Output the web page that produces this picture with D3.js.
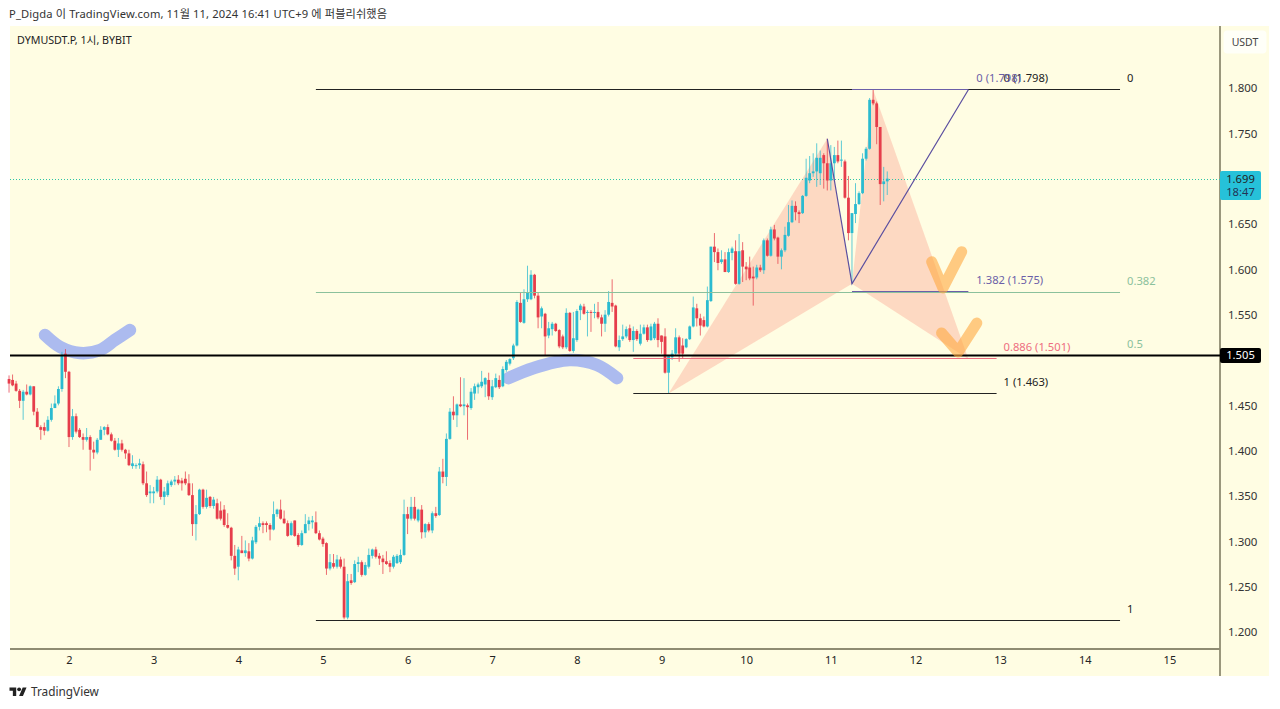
<!DOCTYPE html>
<html>
<head>
<meta charset="utf-8">
<style>
	html, body { margin: 0; padding: 0; background: #fff; }
	svg { display: block; }
	text { font-family: "Noto Sans", "Noto Sans CJK KR", sans-serif; font-size: 11.2px; fill: #222; }
</style>
</head>
<body>
<svg id="chart" width="1280" height="709"></svg>
<script src="https://cdn.jsdelivr.net/npm/d3@7"></script>
<script>
// hourly candles, one entry per bar
const opens = [
	1.479,1.478,1.474,1.466,1.455,1.465,1.462,1.471,1.443,1.426,
	1.426,1.422,1.434,1.447,1.452,1.468,1.507,1.487,1.415,1.438,
	1.423,1.415,1.412,1.415,1.401,1.398,1.412,1.423,1.426,1.418,
	1.411,1.401,1.408,1.401,1.397,1.383,1.383,1.384,1.385,1.364,
	1.353,1.353,1.355,1.368,1.349,1.351,1.362,1.366,1.368,1.367,
	1.369,1.364,1.351,1.319,1.330,1.357,1.338,1.349,1.339,1.342,
	1.334,1.335,1.318,1.315,1.284,1.272,1.290,1.287,1.289,1.281,
	1.299,1.316,1.320,1.320,1.318,1.313,1.330,1.335,1.325,1.320,
	1.307,1.323,1.307,1.296,1.309,1.319,1.321,1.321,1.309,1.303,
	1.298,1.270,1.276,1.272,1.280,1.272,1.216,1.257,1.255,1.275,
	1.277,1.263,1.272,1.284,1.291,1.284,1.281,1.278,1.276,1.272,
	1.276,1.277,1.285,1.330,1.325,1.338,1.323,1.335,1.310,1.319,
	1.312,1.331,1.329,1.377,1.371,1.413,1.443,1.439,1.451,1.449,
	1.450,1.447,1.463,1.470,1.471,1.473,1.478,1.459,1.470,1.478,
	1.471,1.489,1.496,1.502,1.516,1.563,1.541,1.567,1.567,1.594,
	1.571,1.548,1.551,1.527,1.534,1.540,1.533,1.526,1.514,1.552,
	1.510,1.522,1.555,1.559,1.552,1.553,1.552,1.553,1.547,1.540,
	1.550,1.563,1.560,1.514,1.523,1.526,1.535,1.522,1.532,1.518,
	1.529,1.536,1.522,1.524,1.540,1.527,1.526,1.486,1.503,1.507,
	1.525,1.516,1.514,1.523,1.537,1.557,1.546,1.544,1.537,1.565,
	1.625,1.619,1.608,1.611,1.597,1.618,1.620,1.584,1.621,1.603,
	1.602,1.592,1.591,1.602,1.599,1.632,1.615,1.644,1.635,1.614,
	1.621,1.637,1.652,1.670,1.663,1.662,1.681,1.698,1.706,1.708,
	1.706,1.726,1.717,1.698,1.717,1.726,1.720,1.719,1.679,1.640,
	1.661,1.672,1.684,1.722,1.733,1.787,1.783,1.757,1.694,1.697
];
const highs = [
	1.483,1.484,1.477,1.468,1.467,1.473,1.472,1.471,1.447,1.428,
	1.431,1.438,1.452,1.461,1.471,1.509,1.512,1.488,1.446,1.441,
	1.425,1.419,1.425,1.417,1.410,1.414,1.427,1.427,1.429,1.420,
	1.414,1.414,1.412,1.402,1.401,1.395,1.386,1.391,1.388,1.377,
	1.362,1.360,1.372,1.369,1.360,1.367,1.368,1.372,1.373,1.370,
	1.377,1.374,1.364,1.340,1.358,1.358,1.357,1.350,1.349,1.347,
	1.344,1.340,1.331,1.316,1.296,1.294,1.306,1.301,1.298,1.305,
	1.318,1.327,1.322,1.322,1.320,1.344,1.336,1.346,1.334,1.323,
	1.322,1.323,1.309,1.312,1.330,1.327,1.328,1.333,1.312,1.305,
	1.299,1.286,1.286,1.285,1.283,1.281,1.264,1.264,1.279,1.283,
	1.279,1.277,1.292,1.292,1.294,1.287,1.285,1.289,1.279,1.285,
	1.286,1.291,1.346,1.338,1.349,1.349,1.336,1.340,1.320,1.321,
	1.333,1.338,1.382,1.391,1.419,1.447,1.460,1.452,1.481,1.480,
	1.452,1.469,1.474,1.475,1.488,1.481,1.486,1.478,1.485,1.483,
	1.493,1.500,1.502,1.518,1.566,1.574,1.578,1.604,1.599,1.595,
	1.574,1.559,1.552,1.542,1.542,1.541,1.534,1.528,1.557,1.553,
	1.553,1.556,1.562,1.562,1.555,1.555,1.562,1.564,1.550,1.555,
	1.576,1.589,1.561,1.527,1.539,1.537,1.539,1.537,1.534,1.539,
	1.539,1.539,1.540,1.542,1.546,1.527,1.535,1.505,1.511,1.535,
	1.527,1.524,1.524,1.538,1.570,1.562,1.551,1.548,1.581,1.625,
	1.640,1.623,1.621,1.619,1.623,1.625,1.632,1.639,1.630,1.608,
	1.614,1.603,1.605,1.605,1.634,1.634,1.647,1.649,1.636,1.623,
	1.647,1.671,1.676,1.675,1.665,1.682,1.722,1.725,1.728,1.739,
	1.731,1.728,1.744,1.737,1.735,1.742,1.742,1.721,1.703,1.662,
	1.695,1.686,1.728,1.735,1.789,1.798,1.785,1.757,1.713,1.708
];
const lows = [
	1.464,1.471,1.465,1.447,1.434,1.461,1.461,1.439,1.426,1.412,
	1.417,1.421,1.432,1.447,1.450,1.465,1.480,1.404,1.412,1.419,
	1.414,1.401,1.410,1.378,1.391,1.396,1.412,1.417,1.417,1.410,
	1.400,1.393,1.399,1.391,1.383,1.380,1.380,1.380,1.362,1.349,
	1.342,1.342,1.353,1.346,1.340,1.349,1.360,1.362,1.362,1.356,
	1.362,1.350,1.306,1.301,1.329,1.336,1.336,1.337,1.336,1.324,
	1.323,1.316,1.314,1.279,1.263,1.257,1.287,1.283,1.278,1.280,
	1.297,1.312,1.309,1.310,1.301,1.312,1.327,1.324,1.319,1.305,
	1.306,1.305,1.294,1.295,1.309,1.312,1.314,1.308,1.301,1.294,
	1.263,1.268,1.270,1.270,1.270,1.214,1.214,1.252,1.254,1.266,
	1.261,1.262,1.270,1.281,1.281,1.274,1.264,1.274,1.266,1.270,
	1.275,1.275,1.284,1.308,1.323,1.323,1.321,1.303,1.304,1.310,
	1.309,1.326,1.328,1.364,1.361,1.412,1.434,1.426,1.448,1.439,
	1.412,1.445,1.456,1.463,1.469,1.459,1.456,1.456,1.469,1.468,
	1.470,1.487,1.494,1.500,1.515,1.541,1.540,1.564,1.566,1.568,
	1.535,1.535,1.505,1.524,1.527,1.531,1.513,1.512,1.512,1.509,
	1.508,1.520,1.544,1.550,1.526,1.531,1.546,1.545,1.526,1.531,
	1.548,1.553,1.514,1.510,1.521,1.524,1.520,1.509,1.521,1.516,
	1.528,1.520,1.521,1.522,1.514,1.507,1.485,1.463,1.500,1.505,
	1.498,1.502,1.513,1.522,1.536,1.537,1.527,1.536,1.536,1.564,
	1.608,1.599,1.606,1.597,1.596,1.610,1.583,1.583,1.586,1.588,
	1.588,1.560,1.589,1.597,1.595,1.614,1.614,1.632,1.606,1.600,
	1.619,1.636,1.651,1.654,1.651,1.661,1.680,1.695,1.702,1.691,
	1.693,1.689,1.687,1.687,1.698,1.717,1.713,1.678,1.632,1.584,
	1.651,1.671,1.683,1.720,1.732,1.781,1.738,1.671,1.675,1.682
];
const closes = [
	1.474,1.472,1.466,1.455,1.465,1.462,1.471,1.443,1.426,1.423,
	1.422,1.434,1.447,1.452,1.468,1.506,1.487,1.415,1.438,1.421,
	1.415,1.412,1.415,1.401,1.398,1.412,1.423,1.426,1.418,1.411,
	1.401,1.408,1.401,1.397,1.384,1.386,1.384,1.386,1.364,1.351,
	1.355,1.355,1.368,1.349,1.355,1.364,1.366,1.368,1.364,1.364,
	1.364,1.351,1.319,1.330,1.357,1.338,1.348,1.339,1.346,1.325,
	1.325,1.318,1.315,1.284,1.270,1.291,1.287,1.290,1.281,1.301,
	1.316,1.320,1.318,1.318,1.313,1.330,1.335,1.325,1.320,1.306,
	1.320,1.306,1.296,1.309,1.319,1.323,1.323,1.309,1.302,1.297,
	1.270,1.277,1.272,1.280,1.272,1.216,1.256,1.254,1.275,1.277,
	1.263,1.274,1.285,1.291,1.283,1.281,1.277,1.275,1.272,1.283,
	1.284,1.285,1.330,1.325,1.338,1.325,1.335,1.310,1.319,1.312,
	1.331,1.328,1.377,1.371,1.413,1.443,1.439,1.451,1.449,1.451,
	1.448,1.465,1.471,1.473,1.476,1.480,1.460,1.471,1.480,1.470,
	1.490,1.498,1.501,1.516,1.564,1.542,1.567,1.574,1.594,1.571,
	1.547,1.557,1.526,1.535,1.540,1.532,1.515,1.514,1.552,1.510,
	1.524,1.554,1.560,1.551,1.553,1.552,1.553,1.547,1.540,1.550,
	1.564,1.559,1.515,1.522,1.526,1.534,1.522,1.532,1.523,1.529,
	1.536,1.522,1.537,1.540,1.522,1.520,1.486,1.505,1.507,1.525,
	1.507,1.507,1.523,1.537,1.558,1.546,1.538,1.537,1.566,1.625,
	1.619,1.607,1.611,1.597,1.619,1.623,1.584,1.620,1.603,1.600,
	1.590,1.590,1.602,1.599,1.632,1.615,1.644,1.634,1.614,1.621,
	1.638,1.652,1.670,1.663,1.661,1.681,1.701,1.706,1.708,1.723,
	1.723,1.717,1.698,1.717,1.726,1.719,1.721,1.679,1.640,1.662,
	1.672,1.684,1.722,1.733,1.787,1.783,1.757,1.694,1.697,1.700
];

const dayLabels = [2,3,4,5,6,7,8,9,10,11,12,13,14,15];
const firstDayBar = 17; // bar index where the 2nd starts
const priceTicks = [1.8,1.75,1.65,1.6,1.55,1.45,1.4,1.35,1.3,1.25,1.2];

const lastPrice = 1.699;
const countdown = "18:47";
const supportPrice = 1.505;

// long fib, bars 87 to 315
const fibPrices = [1.798,1.574,1.505,1.213];
const fibLabels = ["0","0.382","0.5","1"];
const fibColors = ["#222","#8bc19c","#8bc19c","#222"];

// short fib, bars 177 to 280
const shortPrices = [1.798,1.502,1.463];
const shortLabels = ["0 (1.798)","0.886 (1.501)","1 (1.463)"];
const shortColors = ["#222","#ee6d80","#222"];

// purple fib, bars 239 to 272
const purplePrices = [1.798,1.576];
const purpleLabels = ["0 (1.798)","1.382 (1.575)"];

// harmonic pattern X A B C D
const patternBars = [187,232,239,245,272];
const patternPrices = [1.463,1.744,1.584,1.798,1.501];

// hand drawn strokes
const brushOneBars = [10.2,14.5,20.1,25.8,30,34.3];
const brushOnePrices = [1.5276,1.5144,1.5077,1.511,1.522,1.533];
const brushTwoBars = [141.6,148.6,159,166.7,172.4];
const brushTwoPrices = [1.48,1.491,1.5,1.4945,1.48];
const checkOneBars = [261.6,264.8,270.1];
const checkOnePrices = [1.6084,1.5794,1.6195];
const checkTwoBars = [264.4,269.1,274.4];
const checkTwoPrices = [1.5298,1.5088,1.5408];

const up = "#2bbbd0", down = "#e63d4b", panelBg = "#fffde3", axisLine = "#8f8c72";
const plotLeft = 10, plotRight = 1220, plotTop = 26, plotBottom = 649;

const svg = d3.select("#chart");
const x = d3.scaleLinear().domain([0,firstDayBar+13*24]).range([9.04,1169.4]);
const y = d3.scaleLinear().domain([1.2,1.8]).range([632,88]);
const snapY = p => Math.floor(y(p))+.5;

svg.append("rect").attr("x",plotLeft).attr("y",plotTop).attr("width",1259).attr("height",650).attr("fill",panelBg);

// axes
const xAxis = d3.axisBottom(x)
	.tickValues(dayLabels.map((d,i) => firstDayBar+i*24))
	.tickFormat((d,i) => dayLabels[i])
	.tickSize(0).tickPadding(7);
const yAxis = d3.axisRight(y)
	.tickValues(priceTicks)
	.tickFormat(d3.format(".3f"))
	.tickSize(0).tickPadding(8);
const gx = svg.append("g").attr("transform","translate(0,"+plotBottom+")").call(xAxis);
const gy = svg.append("g").attr("transform","translate("+plotRight+",0)").call(yAxis);
gx.select(".domain").remove();
gy.select(".domain").remove();
gx.selectAll("text").style("font-size","11px").style("fill","#222");
gy.selectAll("text").style("font-size","11.5px").style("fill","#333");

svg.append("line").attr("x1",plotRight).attr("x2",plotRight).attr("y1",plotTop).attr("y2",676).attr("stroke",axisLine).attr("stroke-width",1.8);
svg.append("line").attr("x1",plotLeft).attr("x2",plotRight).attr("y1",plotBottom).attr("y2",plotBottom).attr("stroke",axisLine).attr("stroke-width",1.8);

const strokeLine = d3.line().curve(d3.curveCatmullRom);
function drawStroke(bars, prices, color, width, opacity, curve) {
	const pts = bars.map((b,i) => [x(b),y(prices[i])]);
	svg.append("path")
		.attr("d", (curve ? strokeLine : d3.line())(pts))
		.attr("fill","none").attr("stroke",color).attr("stroke-width",width)
		.attr("stroke-linecap","round").attr("stroke-linejoin","round")
		.attr("opacity",opacity);
}

// blue brushes go under the candles
drawStroke(brushOneBars,brushOnePrices,"#acbbef",12.5,1,true);
drawStroke(brushTwoBars,brushTwoPrices,"#acbbef",12.5,1,true);

// pattern triangles, candles stay vivid on top of them
const tri = [[0,1,2],[2,3,4]];
svg.append("g").selectAll("path").data(tri).join("path")
	.attr("d",t => d3.line()(t.map(k => [x(patternBars[k]),y(patternPrices[k])]))+"Z")
	.attr("fill","#f77f6b").attr("opacity",.28);

// last price line
svg.append("line").attr("x1",plotLeft).attr("x2",plotRight).attr("y1",snapY(lastPrice)).attr("y2",snapY(lastPrice))
	.attr("stroke","#2ec4a6").attr("stroke-width",1).attr("stroke-dasharray","1 2");

// candles
const candles = svg.append("g").selectAll("g").data(opens).join("g");
candles.append("line")
	.attr("x1",(d,i) => x(i)).attr("x2",(d,i) => x(i))
	.attr("y1",(d,i) => y(highs[i])).attr("y2",(d,i) => y(lows[i]))
	.attr("stroke",(d,i) => closes[i] >= opens[i] ? up : down)
	.attr("stroke-width",1).attr("opacity",.75);
candles.append("rect")
	.attr("x",(d,i) => x(i)-1.4).attr("width",2.8)
	.attr("y",(d,i) => y(Math.max(opens[i],closes[i])))
	.attr("height",(d,i) => Math.max(1,Math.abs(y(opens[i])-y(closes[i]))))
	.attr("fill",(d,i) => closes[i] >= opens[i] ? up : down);

// horizontal fib lines
function levels(prices, labels, colors, from, to, labelBar, labelDx) {
	prices.forEach((p,i) => {
		svg.append("line").attr("x1",x(from)).attr("x2",x(to)).attr("y1",snapY(p)).attr("y2",snapY(p))
			.attr("stroke",colors[i]).attr("stroke-width",1.2);
		svg.append("text").attr("x",x(labelBar)+labelDx).attr("y",y(p)-11.5).attr("dy",".35em")
			.style("fill",colors[i]).text(labels[i]);
	});
}
levels(fibPrices,fibLabels,fibColors,87,315,315,7);
levels(shortPrices,shortLabels,shortColors,177,280,280,7);
levels(purplePrices,purpleLabels,["#6b5fa8","#6b5fa8"],239,272,272,8);

// thick support line
svg.append("line").attr("x1",plotLeft).attr("x2",plotRight).attr("y1",y(supportPrice)).attr("y2",y(supportPrice))
	.attr("stroke","#000").attr("stroke-width",2);

// A-B-D purple zigzag
const zig = [[patternBars[1],patternPrices[1]],[patternBars[2],patternPrices[2]],[272,1.798]];
svg.append("path").attr("d",d3.line().x(d => x(d[0])).y(d => y(d[1]))(zig))
	.attr("fill","none").attr("stroke","#5b4fa0").attr("stroke-width",1.2);

// orange checks
drawStroke(checkOneBars,checkOnePrices,"#ffa940",11,.6,false);
drawStroke(checkTwoBars,checkTwoPrices,"#ffa940",11,.6,false);

// price tags
svg.append("rect").attr("x",plotRight).attr("y",y(lastPrice)-8.5).attr("width",41).attr("height",29).attr("rx",2).attr("fill","#26c1d9");
svg.append("text").attr("x",plotRight+20.5).attr("y",y(lastPrice)).attr("dy",".35em").attr("text-anchor","middle").text(d3.format(".3f")(lastPrice));
svg.append("text").attr("x",plotRight+20.5).attr("y",y(lastPrice)+13).attr("dy",".35em").attr("text-anchor","middle").style("fill","#235").text(countdown);
svg.append("rect").attr("x",plotRight).attr("y",y(supportPrice)-7.5).attr("width",41).attr("height",15).attr("rx",2).attr("fill","#000");
svg.append("text").attr("x",plotRight+20.5).attr("y",y(supportPrice)).attr("dy",".35em").attr("text-anchor","middle")
	.style("fill","#fff").text(d3.format(".3f")(supportPrice));

// currency box
svg.append("rect").attr("x",1223.5).attr("y",30.5).attr("width",43).attr("height",23).attr("rx",4).attr("fill","#fffff8");
svg.append("text").attr("x",1245).attr("y",42).attr("dy",".35em").attr("text-anchor","middle").style("font-size","10.5px").style("fill","#444").text("USDT");

// titles
svg.append("text").attr("x",9).attr("y",14).attr("dy",".35em").style("fill","#333").style("letter-spacing",".12px").text("P_Digda 이 TradingView.com, 11월 11, 2024 16:41 UTC+9 에 퍼블리쉬했음");
svg.append("text").attr("x",17).attr("y",40).attr("dy",".35em").style("font-size","10.7px").text("DYMUSDT.P, 1시, BYBIT");

// logo
const logo = svg.append("g").attr("transform","translate(9.5,685.5) scale(.48)").attr("fill","#222");
logo.append("path").attr("d","M14 22H7V11H0V4h14v18zM28 22h-8l7.5-18h8L28 22z");
logo.append("circle").attr("cx",20).attr("cy",8).attr("r",4);
svg.append("text").attr("x",31).attr("y",692).attr("dy",".35em").style("font-size","11.8px").style("fill","#333").text("TradingView");
</script>
</body>
</html>
